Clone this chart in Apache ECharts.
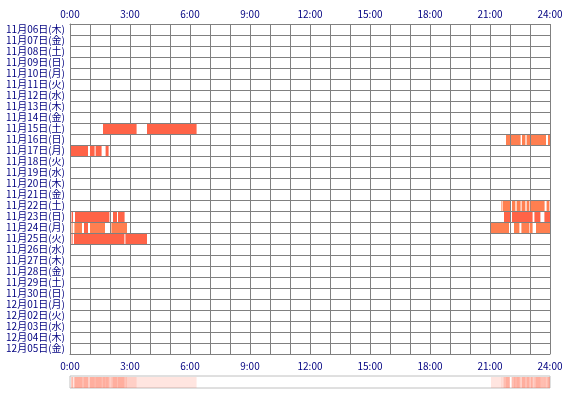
<!DOCTYPE html>
<html>
<head>
<meta charset="utf-8">
<script src="https://cdn.jsdelivr.net/npm/echarts@6/dist/echarts.min.js"></script>
<style>html,body{margin:0;padding:0;background:#fff;}#c{width:570px;height:400px;}</style>
</head>
<body>
<div id="c"></div>
<script>
// Categories (rows, top to bottom)
var days = [
  '11月06日(木)','11月07日(金)','11月08日(土)','11月09日(日)','11月10日(月)',
  '11月11日(火)','11月12日(水)','11月13日(木)','11月14日(金)','11月15日(土)',
  '11月16日(日)','11月17日(月)','11月18日(火)','11月19日(水)','11月20日(木)',
  '11月21日(金)','11月22日(土)','11月23日(日)','11月24日(月)','11月25日(火)',
  '11月26日(水)','11月27日(木)','11月28日(金)','11月29日(土)','11月30日(日)',
  '12月01日(月)','12月02日(火)','12月03日(水)','12月04日(木)','12月05日(金)'
];
// Hour ticks
var hourTicks = [0,3,6,9,12,15,18,21,24];
// Segments: [day, startHour, endHour, level] (level 1 = deep, 2 = light)
var seg1115 = [['11月15日(土)',1.65,3.33,1],['11月15日(土)',3.85,6.33,1]];
var seg1116 = [['11月16日(日)',21.8,22.0,2],['11月16日(日)',22.05,22.53,2],['11月16日(日)',22.6,22.77,2],
               ['11月16日(日)',22.83,23.0,2],['11月16日(日)',23.05,23.8,2],['11月16日(日)',23.9,24,2]];
var seg1117 = [['11月17日(月)',0.05,0.9,1],['11月17日(月)',1.0,1.23,1],['11月17日(月)',1.28,1.58,1],['11月17日(月)',1.78,1.93,1]];
var seg1122 = [['11月22日(土)',21.55,21.58,2],['11月22日(土)',21.63,22.0,2],['11月22日(土)',22.1,22.27,2],
               ['11月22日(土)',22.33,22.53,2],['11月22日(土)',22.58,22.77,2],['11月22日(土)',22.83,22.97,2],
               ['11月22日(土)',23.03,23.73,2],['11月22日(土)',23.83,23.97,2]];
var seg1123 = [['11月23日(日)',0.08,0.15,1],['11月23日(日)',0.25,1.97,1],['11月23日(日)',2.15,2.35,1],['11月23日(日)',2.4,2.73,1],
               ['11月23日(日)',21.7,22.0,1],['11月23日(日)',22.1,23.13,1],['11月23日(日)',23.22,23.52,1],['11月23日(日)',23.72,24,1]];
var seg1124 = [['11月24日(月)',0.08,0.13,2],['11月24日(月)',0.22,0.6,2],['11月24日(月)',0.7,0.9,1],['11月24日(月)',1.0,1.75,2],
               ['11月24日(月)',2.07,2.85,2],
               ['11月24日(月)',21.05,21.95,2],['11月24日(月)',22.2,22.47,2],['11月24日(月)',22.57,22.97,2],
               ['11月24日(月)',23.0,23.13,2],['11月24日(月)',23.3,24,2]];
var seg1125 = [['11月25日(火)',0.08,0.13,1],['11月25日(火)',0.2,2.72,1],['11月25日(火)',2.77,3.85,1]];

var segments = [].concat(seg1115, seg1116, seg1117, seg1122, seg1123, seg1124, seg1125);

var levelColors = {1:'#FF6347', 2:'#FF7F50'};
var navy = '#000080';
var gridGray = '#808080';
var fontFam = '"Noto Sans CJK JP", "DejaVu Sans", sans-serif';

function hourLabel(v){ return hourTicks.indexOf(v) >= 0 ? v + ':00' : ''; }

var chart = echarts.init(document.getElementById('c'), null, {renderer:'canvas'});
chart.setOption({
  animation: false,
  backgroundColor: '#fff',
  grid: [
    {left:70, width:480, top:24, height:330, containLabel:false},
    {left:70, width:480, top:376, height:12, show:true, borderColor:'#c0c0c0', borderWidth:1, backgroundColor:'#fff'}
  ],
  xAxis: [
    {type:'value', gridIndex:0, position:'top', min:0, max:24, interval:1,
     axisLine:{show:true, lineStyle:{color:gridGray}}, axisTick:{show:false},
     splitLine:{show:true, lineStyle:{color:gridGray, width:1}},
     axisLabel:{color:navy, fontSize:10, fontFamily:fontFam, margin:5, formatter:hourLabel, showMinLabel:true, showMaxLabel:true}},
    {type:'value', gridIndex:0, position:'bottom', min:0, max:24, interval:1,
     axisLine:{show:true, lineStyle:{color:gridGray}}, axisTick:{show:false},
     splitLine:{show:false},
     axisLabel:{color:navy, fontSize:10, fontFamily:fontFam, margin:7, formatter:hourLabel, showMinLabel:true, showMaxLabel:true}},
    {type:'value', gridIndex:1, min:0, max:24, show:false}
  ],
  yAxis: [
    {type:'category', gridIndex:0, data:days, inverse:true,
     axisLine:{show:true, lineStyle:{color:gridGray}}, axisTick:{show:false},
     splitLine:{show:true, interval:0, lineStyle:{color:gridGray, width:1}},
     axisLabel:{color:navy, fontSize:10, fontFamily:fontFam, interval:0, margin:5}},
    {type:'value', gridIndex:1, min:0, max:1, show:false}
  ],
  series: [
    {
      type:'custom', xAxisIndex:0, yAxisIndex:0,
      encode:{x:[1,2], y:0},
      data: segments,
      renderItem: function(params, api){
        var row = api.value(0);
        var p0 = api.coord([api.value(1), row]);
        var p1 = api.coord([api.value(2), row]);
        var h = api.size([0,1])[1];
        return {type:'rect', shape:{x:p0[0], y:p0[1]-h/2+1, width:p1[0]-p0[0], height:h-1},
                style:{fill: levelColors[api.value(3)]}};
      }
    },
    {
      type:'custom', xAxisIndex:2, yAxisIndex:1,
      encode:{x:[1,2]},
      data: segments,
      renderItem: function(params, api){
        var p0 = api.coord([api.value(1), 1]);
        var p1 = api.coord([api.value(2), 0]);
        return {type:'rect', shape:{x:p0[0], y:p0[1]+1, width:p1[0]-p0[0], height:p1[1]-p0[1]-1},
                style:{fill:'#FF6347', opacity:0.17}};
      }
    }
  ]
});
</script>
</body>
</html>
